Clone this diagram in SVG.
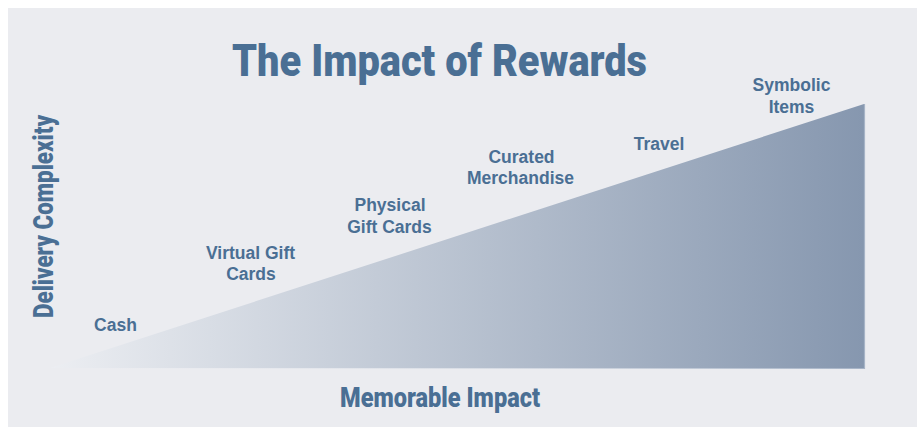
<svg xmlns="http://www.w3.org/2000/svg" width="917" height="427" viewBox="0 0 917 427">
  <defs>
    <linearGradient id="tri" x1="50" y1="0" x2="864" y2="0" gradientUnits="userSpaceOnUse">
      <stop offset="0" stop-color="#eceef2"/>
      <stop offset="1" stop-color="#8697af"/>
    </linearGradient>
    <linearGradient id="edge" x1="50" y1="0" x2="864" y2="0" gradientUnits="userSpaceOnUse">
      <stop offset="0" stop-color="#eceef2" stop-opacity="0"/>
      <stop offset="1" stop-color="#a7b4c7"/>
    </linearGradient>
    <style>
      .cond { font-family: Roboto, "Liberation Sans", sans-serif; font-weight: 900; fill: #4a6f94; }
      .lbl { font-family: "Liberation Sans", Arial, sans-serif; font-weight: bold; font-size: 17.5px; fill: #4a6f94; text-anchor: middle; }
    </style>
  </defs>
  <rect x="0" y="0" width="917" height="427" fill="#ffffff"/>
  <rect x="8" y="8" width="909" height="419" fill="#ebecf0"/>

  <g id="ramp">
    <polygon points="50,368 864,104 864,368" fill="url(#tri)"/>
    <path d="M50,368.5 H864.5 V104" fill="none" stroke="url(#edge)" stroke-width="1.2"/>
  </g>

  <g id="title">
    <text class="cond" x="232" y="76" font-size="45" textLength="415" lengthAdjust="spacingAndGlyphs">The Impact of Rewards</text>
  </g>
  <g id="axis-x">
    <text class="cond" x="340" y="407" font-size="27" textLength="200" lengthAdjust="spacingAndGlyphs">Memorable Impact</text>
  </g>
  <g id="axis-y">
    <text class="cond" transform="translate(53,318) rotate(-90)" x="0" y="0" font-size="28" textLength="203" lengthAdjust="spacingAndGlyphs">Delivery Complexity</text>
  </g>

  <g id="connectors"></g>

  <g id="node-cash">
    <text class="lbl" x="115.5" y="331">Cash</text>
  </g>
  <g id="node-virtual">
    <text class="lbl" x="250.5" y="259">Virtual Gift</text>
    <text class="lbl" x="251" y="280">Cards</text>
  </g>
  <g id="node-physical">
    <text class="lbl" x="390" y="211">Physical</text>
    <text class="lbl" x="389.5" y="233">Gift Cards</text>
  </g>
  <g id="node-curated">
    <text class="lbl" x="521.5" y="163">Curated</text>
    <text class="lbl" x="520.5" y="184">Merchandise</text>
  </g>
  <g id="node-travel">
    <text class="lbl" x="659" y="150">Travel</text>
  </g>
  <g id="node-symbolic">
    <text class="lbl" x="791.5" y="91">Symbolic</text>
    <text class="lbl" x="791.5" y="113">Items</text>
  </g>
</svg>
